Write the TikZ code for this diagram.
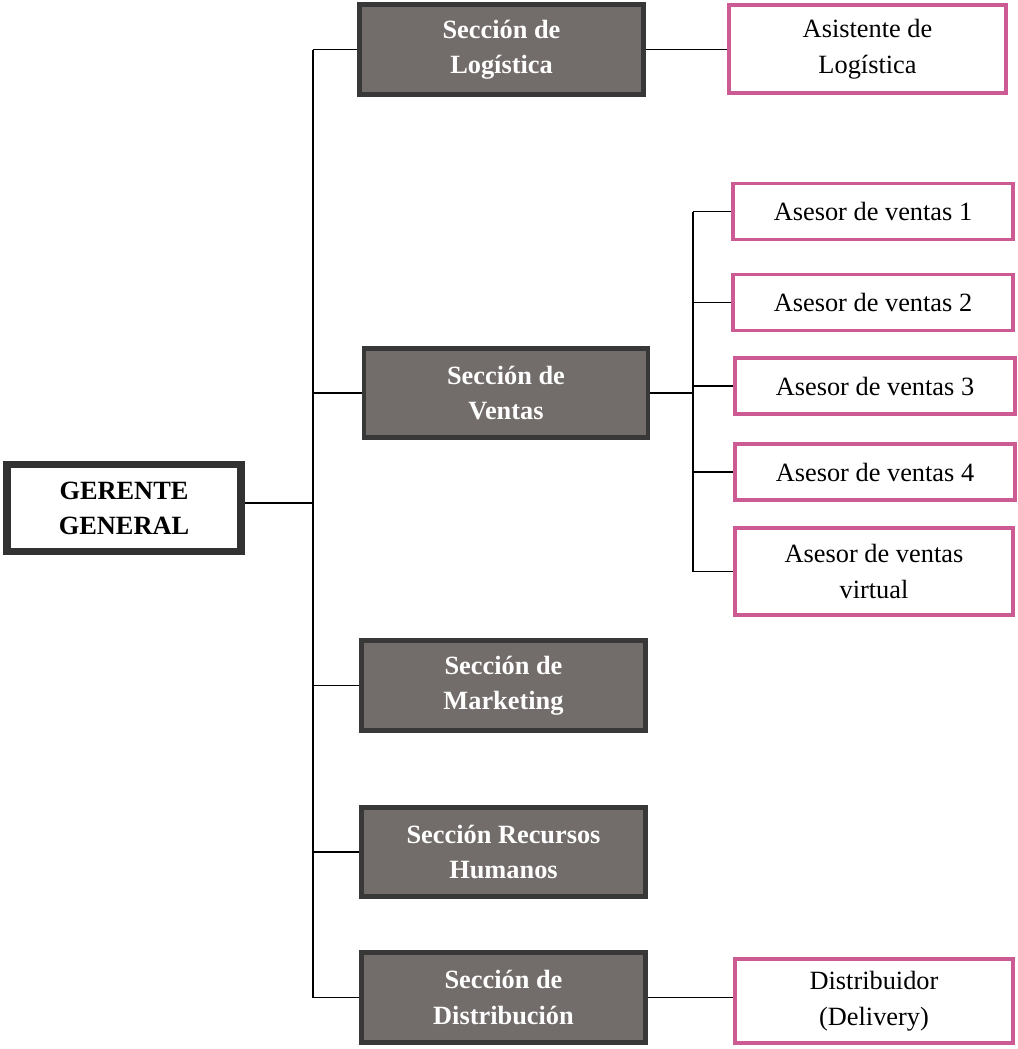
\documentclass[tikz,border=0pt]{standalone}
\usepackage{fontspec}
\setmainfont{Liberation Serif}
\usetikzlibrary{positioning}
\definecolor{grisfondo}{HTML}{726C6A}
\definecolor{grisborde}{HTML}{383838}
\definecolor{rosa}{HTML}{CC5B94}
\tikzset{
  gerente/.style={draw=grisborde!90!black, line width=4.5pt, fill=white, rectangle, minimum width=4.68cm, minimum height=1.74cm, inner sep=0pt, align=center, font=\fontsize{15}{20}\selectfont\bfseries},
  secc/.style={draw=grisborde, line width=2.8pt, fill=grisfondo, rectangle, minimum width=5.68cm, minimum height=1.79cm, inner sep=0pt, align=center, text=white, font=\fontsize{15}{20}\selectfont\bfseries},
  puesto/.style={draw=rosa, line width=2.2pt, fill=white, rectangle, minimum width=5.6cm, minimum height=1.12cm, inner sep=0pt, align=center, font=\fontsize{15}{20.5}\selectfont},
  lin/.style={line width=0.9pt, black},
}

\begin{document}
\begin{tikzpicture}[x=0.02cm, y=-0.02cm]
\useasboundingbox (0,0) rectangle (1018,1049);

\node[gerente] (gg) at (124,508) {GERENTE\\GENERAL};

\node[secc] (logi) at (501.5,49.5) {Sección de\\Logística};
\node[secc] (vent) at (506,393) {Sección de\\Ventas};
\node[secc] (mark) at (503.5,685.5) {Sección de\\Marketing};
\node[secc] (rrhh) at (503.5,852) {Sección Recursos\\Humanos};
\node[secc] (dist) at (503.5,997.5) {Sección de\\Distribución};

\node[puesto, minimum width=5.54cm, minimum height=1.76cm] (asis) at (867.5,49) {Asistente de\\Logística};
\node[puesto] (as1) at (873,211.5) {Asesor de ventas 1};
\node[puesto] (as2) at (873,302.5) {Asesor de ventas 2};
\node[puesto] (as3) at (875,386) {Asesor de ventas 3};
\node[puesto] (as4) at (875,472) {Asesor de ventas 4};
\node[puesto, minimum width=5.56cm, minimum height=1.74cm] (asv) at (874,571.5) {Asesor de ventas\\virtual};
\node[puesto, minimum width=5.56cm, minimum height=1.68cm] (deli) at (874,1001) {Distribuidor\\(Delivery)};

\coordinate (tr) at (313,0);
\coordinate (vr) at (693,0);

\draw[lin] ([yshift=3pt]gg.east) -- ([yshift=3pt]gg.east -| tr);
\draw[lin] (logi.west -| tr) -- (dist.west -| tr);
\foreach \s in {logi,vent,mark,rrhh,dist}
  \draw[lin] (\s.west -| tr) -- (\s.west);

\draw[lin] (logi.east) -- (logi.east -| asis.west);
\draw[lin] (dist.east) -- (dist.east -| deli.west);

\draw[lin] (vent.east) -- (vent.east -| vr);
\draw[lin] (as1.west -| vr) -- (asv.west -| vr);
\foreach \s in {as1,as2,as3,as4,asv}
  \draw[lin] (\s.west -| vr) -- (\s.west);

\end{tikzpicture}
\end{document}
